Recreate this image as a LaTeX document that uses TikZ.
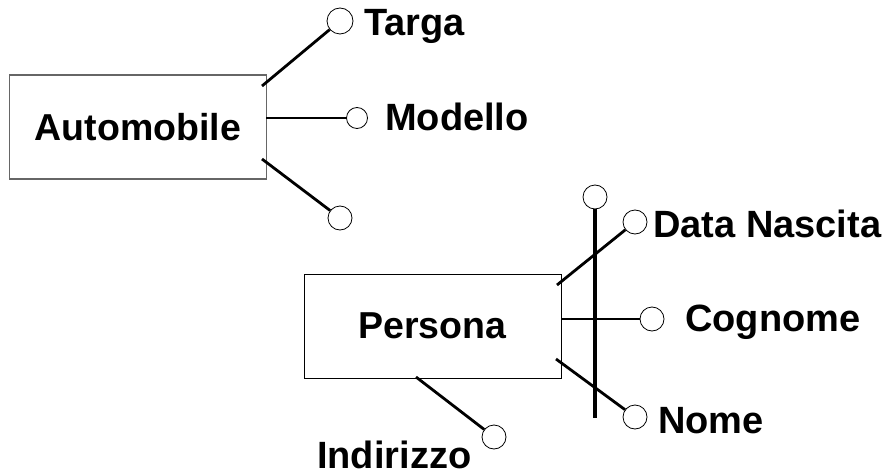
\documentclass[tikz,border=0pt]{standalone}
\usepackage{fontspec}
\setmainfont{Liberation Sans}
\begin{document}
\begin{tikzpicture}
	[x=1pt, y=-1pt,
	entita/.style		={rectangle, draw=black, line width=1pt, minimum width=257pt, minimum height=104pt, inner sep=0pt, font=\fontsize{37.5}{40}\selectfont\bfseries},
	attributo/.style	={circle, draw=black, line width=0.8pt, minimum size=24pt, inner sep=0pt},
	etichetta/.style	={anchor=base west, inner sep=0pt, font=\fontsize{38}{40}\selectfont\bfseries},
	legame/.style		={line width=2.8pt},
	barra/.style		={line width=3.6pt},]
	\useasboundingbox (0,0) rectangle (888,476);
	% entita
	\node[entita, draw=black!60, line width=1.3pt]	(auto)	at (138,127)	{Automobile};
	\node[entita]									(pers)	at (432.5,326)	{Persona};
	% attributi di Automobile
	\node[attributo, minimum size=26pt]	(targa)		at (340,21)		{};
	\node[attributo, minimum size=21pt]	(modello)	at (357,118)	{};
	\node[attributo]					(auto3)		at (340,218)	{};
	\node[etichetta]	(ltarga)	at (364,36)		{Targa};
	\node[etichetta]	(lmodello)	at (385,131)	{Modello};
	\coordinate (a1) at (262,86);
	\coordinate (a2) at (266,118);
	\coordinate (a3) at (262,159);
	\draw[legame] (a1) -- (targa);
	\draw[legame] (a2) -- (modello);
	\draw[legame] (a3) -- (auto3);
	% attributi di Persona
	\node[attributo]	(cima)		at (595,197)	{};
	\node[attributo]	(data)		at (635,222)	{};
	\node[attributo]	(cognome)	at (652,319)	{};
	\node[attributo]	(nome)		at (635,417)	{};
	\node[attributo]	(indirizzo)	at (494,437)	{};
	\node[etichetta]	(ldata)			at (653,237)	{Data Nascita};
	\node[etichetta]	(lcognome)		at (685,331)	{Cognome};
	\node[etichetta]	(lnome)			at (658,433)	{Nome};
	\node[etichetta]	(lindirizzo)	at (317,468)	{Indirizzo};
	\coordinate (p1) at (557,285);
	\coordinate (p2) at (561,319);
	\coordinate (p3) at (556,359);
	\coordinate (p4) at (416,377);
	\coordinate (fondo) at (595,418);
	\draw[legame] (p1) -- (data);
	\draw[legame] (p2) -- (cognome);
	\draw[legame] (p3) -- (nome);
	\draw[legame] (p4) -- (indirizzo);
	\draw[barra] (cima) -- (fondo);
\end{tikzpicture}
\end{document}
